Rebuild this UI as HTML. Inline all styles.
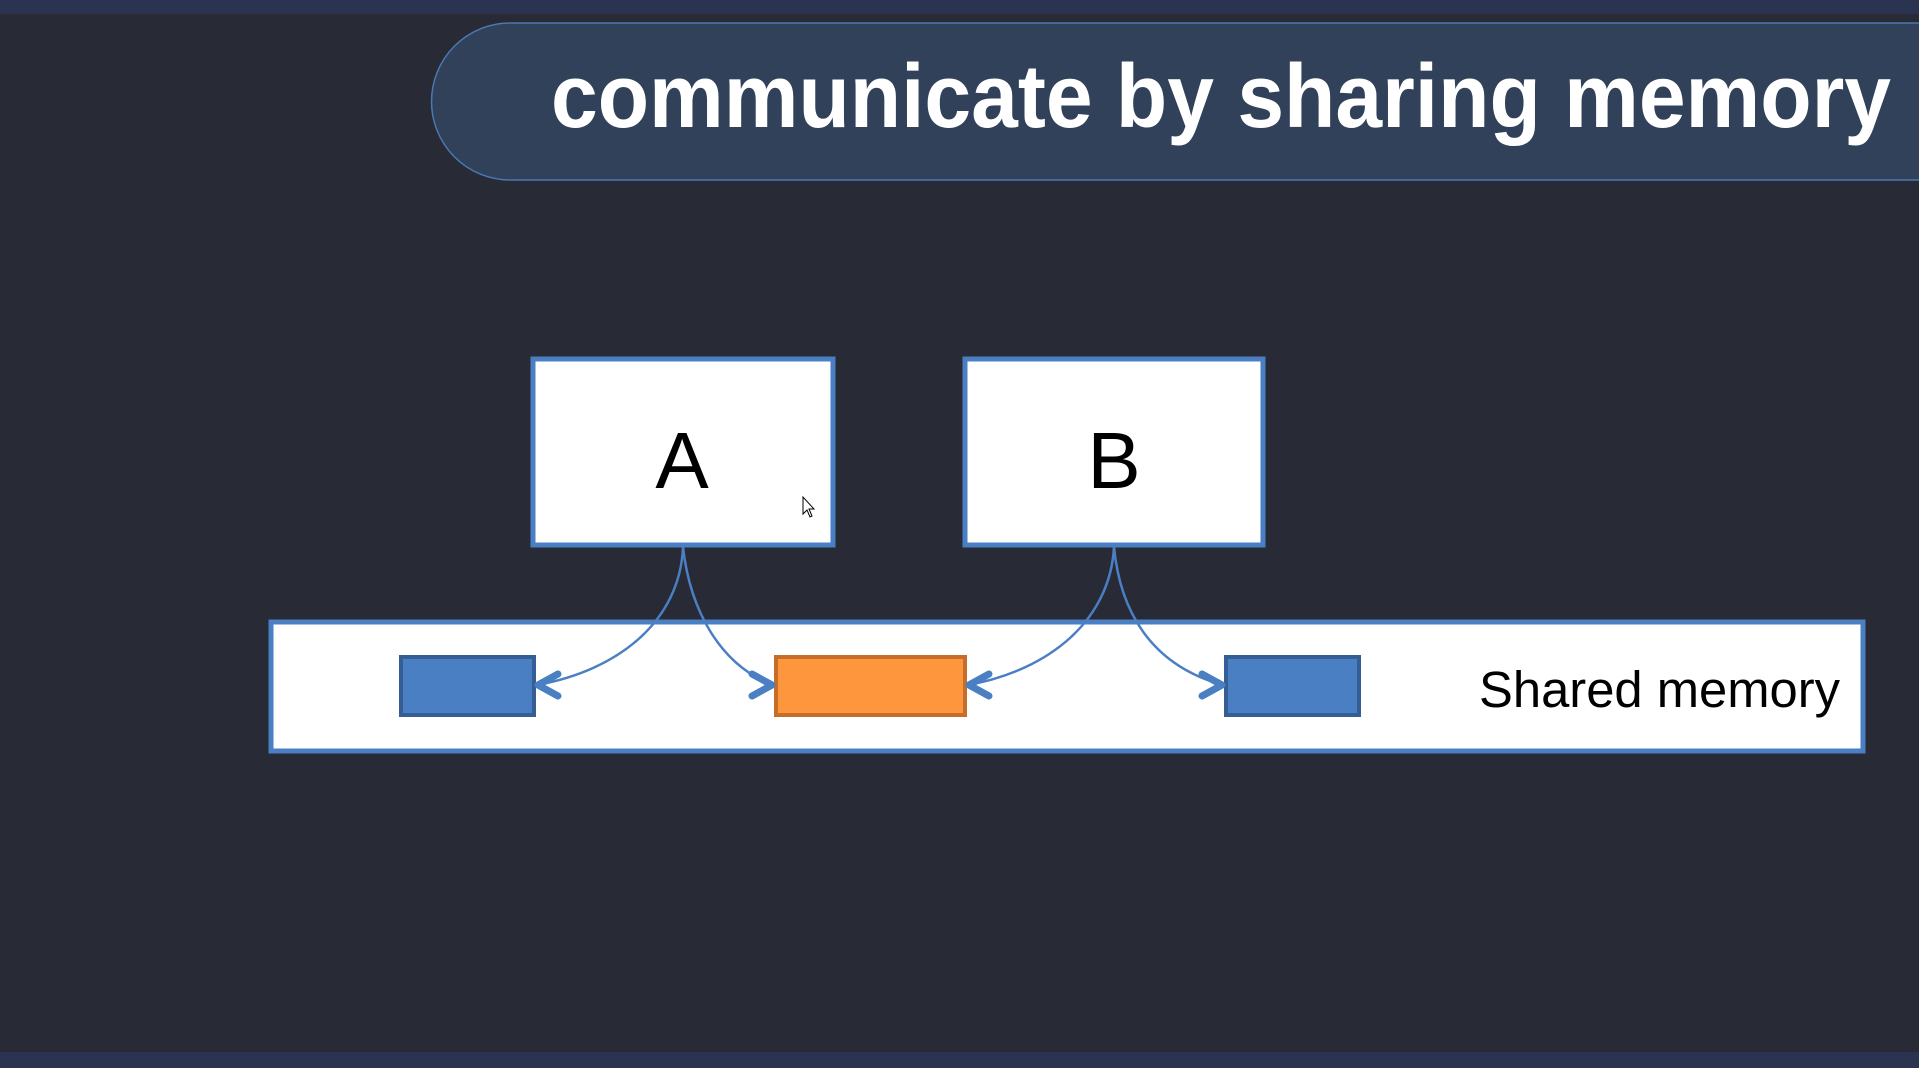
<!DOCTYPE html>
<html><head><meta charset="utf-8"><style>
html,body{margin:0;padding:0;background:#282a35;width:1919px;height:1068px;overflow:hidden}
svg{display:block}
</style></head><body>
<svg width="1919" height="1068" viewBox="0 0 1919 1068">
<rect x="0" y="0" width="1919" height="1068" fill="#282a35"/>
<rect x="0" y="0" width="1919" height="14" fill="#2a3450"/>
<rect x="0" y="1052" width="1919" height="16" fill="#2a3450"/>
<g>
<path d="M510,23 H1940 V180 H510 A78.5,78.5 0 0 1 510,23 Z" fill="#31415a" stroke="#4a78b0" stroke-width="1.5"/>
<text x="551" y="127" font-family="Liberation Sans, sans-serif" font-weight="bold" font-size="90" fill="#ffffff" textLength="1340" lengthAdjust="spacingAndGlyphs">communicate by sharing memory</text>
</g>
<rect x="533" y="359" width="300" height="186" fill="#ffffff" stroke="#4a7fc4" stroke-width="5"/>
<text x="682" y="488" text-anchor="middle" font-family="Liberation Sans, sans-serif" font-size="80" fill="#000">A</text>
<rect x="965" y="359" width="298" height="186" fill="#ffffff" stroke="#4a7fc4" stroke-width="5"/>
<text x="1114" y="488" text-anchor="middle" font-family="Liberation Sans, sans-serif" font-size="80" fill="#000">B</text>
<rect x="271" y="622" width="1592" height="129" fill="#ffffff" stroke="#4a7fc4" stroke-width="5"/>
<text x="1840" y="707" text-anchor="end" font-family="Liberation Sans, sans-serif" font-size="51" fill="#000" textLength="361" lengthAdjust="spacingAndGlyphs">Shared memory</text>
<rect x="401" y="657" width="133" height="58" fill="#4a7fc4" stroke="#345e94" stroke-width="4"/>
<rect x="776" y="657" width="189" height="58" fill="#fd963d" stroke="#c46e2a" stroke-width="4"/>
<rect x="1226" y="657" width="133" height="58" fill="#4a7fc4" stroke="#345e94" stroke-width="4"/>
<g fill="none" stroke="#4a7fc4" stroke-width="2.5">
<path d="M683,547 C680,620 620,670 537,685"/>
<path d="M683,547 C690,610 720,665 773,685"/>
<path d="M1114,547 C1110,620 1050,670 968,685"/>
<path d="M1114,547 C1120,610 1150,665 1223,685"/>
</g>
<g fill="none" stroke="#4a7fc4" stroke-width="7" stroke-linecap="round" stroke-linejoin="round">
<path d="M558,674 L538,685 L558,696"/>
<path d="M752,674 L772,685 L752,696"/>
<path d="M989,674 L969,685 L989,696"/>
<path d="M1202,674 L1222,685 L1202,696"/>
</g>
<path d="M803,497 L803,514 L807,510 L810,517 L812,516 L809,509 L814,509 Z" fill="#fff" stroke="#000" stroke-width="1"/>
</svg>
</body></html>
